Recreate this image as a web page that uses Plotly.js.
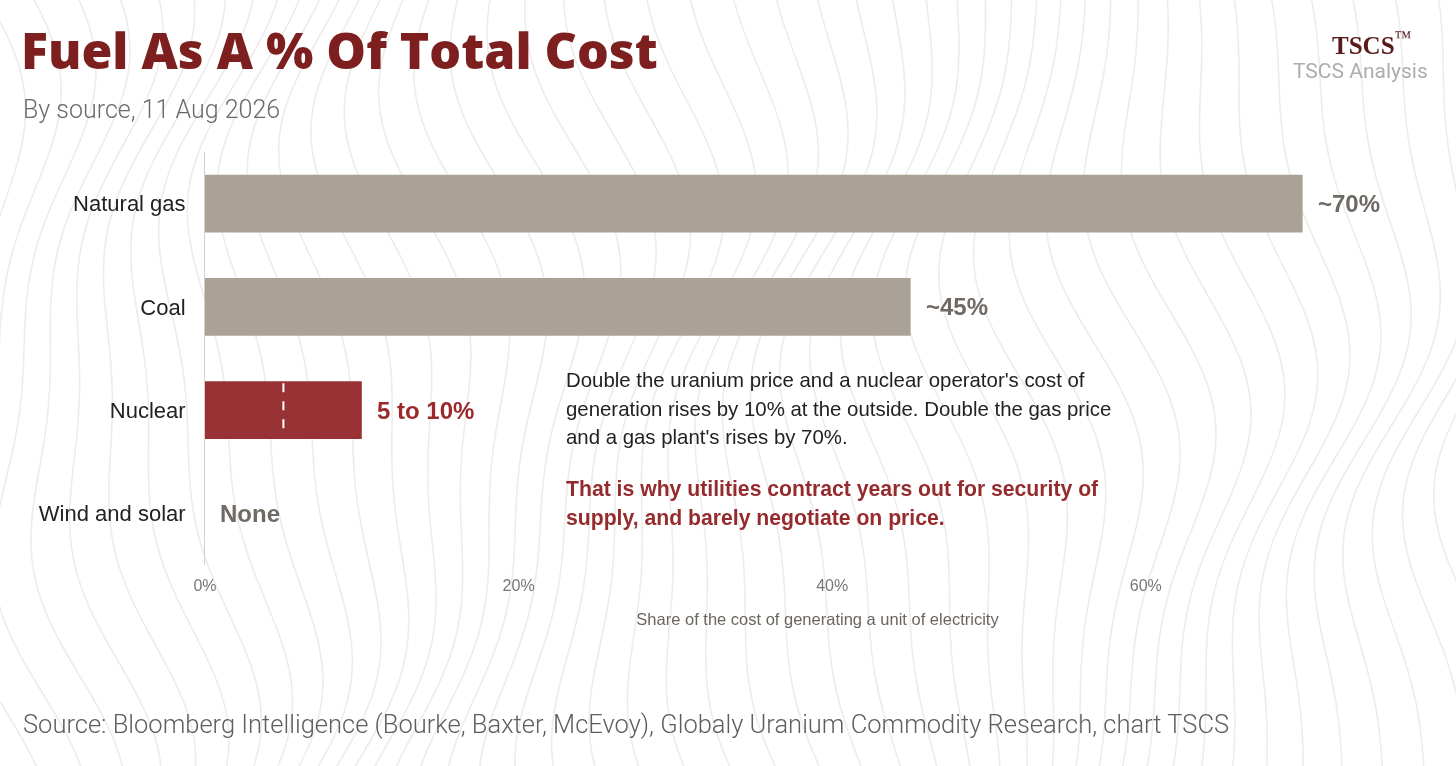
<!DOCTYPE html>
<html>
<head>
<meta charset="utf-8">
<script src="https://cdn.plot.ly/plotly-3.0.1.min.js"></script>
<style>
  html, body { margin: 0; padding: 0; background: #ffffff; }
  #bg { position: absolute; left: 0; top: 0; z-index: 0; }
  #chart { position: absolute; left: 0; top: 0; width: 1456px; height: 766px; z-index: 1; }
</style>
</head>
<body>
<canvas id="bg" width="1456" height="766"></canvas>
<div id="chart"></div>
<script>
// ---- Data ----
const categories = ["Natural gas", "Coal", "Nuclear", "Wind and solar"];
const values = [70, 45, 10, 0];
const valueLabels = ["~70%", "~45%", "5 to 10%", "None"];
const nuclearLow = 5;
const tickValues = [0, 20, 40, 60];
const tickLabels = ["0%", "20%", "40%", "60%"];
const noteLines = [
  "Double the uranium price and a nuclear operator's cost of",
  "generation rises by 10% at the outside. Double the gas price",
  "and a gas plant's rises by 70%."
];
const emphasisLines = [
  "That is why utilities contract years out for security of",
  "supply, and barely negotiate on price."
];

// ---- Decorative background (faint contour-like lines) ----
(function () {
  const c = document.getElementById('bg');
  const ctx = c.getContext('2d');
  ctx.strokeStyle = '#eeebeb';
  ctx.lineWidth = 1.6;
  for (let i = 0; i < 48; i++) {
    const x0 = i * 33 - 60;
    ctx.beginPath();
    for (let y = -20; y <= 790; y += 6) {
      const x = x0 + 42 * Math.sin(y / 125 + i * 0.28) + 16 * Math.sin(y / 58 + i * 0.19);
      if (y === -20) ctx.moveTo(x, y); else ctx.lineTo(x, y);
    }
    ctx.stroke();
  }
})();

// ---- Chart ----
const grey = '#a79e93';
const red = '#952a2c';
const barColors = categories.map(c => c === 'Nuclear' ? red : grey);
const labelColors = categories.map(c => c === 'Nuclear' ? '#9b2a2c' : '#6f6a64');
const barWidth = 0.56;

const trace = {
  type: 'bar',
  orientation: 'h',
  y: categories,
  x: values,
  width: barWidth,
  marker: { color: barColors, opacity: 0.96 },
  hoverinfo: 'skip',
  showlegend: false
};

const L = 205, R = 26, T = 152, B = 201;
const W = 1456, H = 766;
const pw = W - L - R, ph = H - T - B;
const px = v => (v - L) / pw;
const py = v => (H - B - v) / ph;

const annotations = [];
categories.forEach((c, i) => {
  annotations.push({
    xref: 'x', yref: 'y', x: values[i], y: c,
    text: '<b>' + valueLabels[i] + '</b>',
    showarrow: false, xanchor: 'left', yanchor: 'middle', xshift: 13,
    font: { family: 'Liberation Sans, Arial, sans-serif', size: 24, color: labelColors[i] }
  });
});
const noteY = [380, 409, 437];
noteLines.forEach((t, i) => annotations.push({
  xref: 'paper', yref: 'paper', x: px(564), y: py(noteY[i]),
  text: t, showarrow: false, xanchor: 'left', yanchor: 'middle',
  font: { family: 'Liberation Sans, Arial, sans-serif', size: 20.4, color: '#222222' }
}));
const emY = [489, 518];
emphasisLines.forEach((t, i) => annotations.push({
  xref: 'paper', yref: 'paper', x: px(564), y: py(emY[i]),
  text: '<b>' + t + '</b>', showarrow: false, xanchor: 'left', yanchor: 'middle',
  font: { family: 'Liberation Sans, Arial, sans-serif', size: 21.2, color: '#962b2d' }
}));
annotations.push({
  xref: 'paper', yref: 'paper', x: px(21), y: py(109),
  text: 'By source, 11 Aug 2026', showarrow: false, xanchor: 'left', yanchor: 'middle',
  font: { family: 'Roboto, sans-serif', size: 25, color: '#6a6a6a', weight: 300 }
});
annotations.push({
  xref: 'paper', yref: 'paper', x: px(1372), y: py(43),
  text: '<b>TSCS</b><sup>™</sup>', showarrow: false, xanchor: 'center', yanchor: 'middle',
  font: { family: 'Liberation Serif, DejaVu Serif, serif', size: 25, color: '#5a1a1a' }
});
annotations.push({
  xref: 'paper', yref: 'paper', x: px(1430), y: py(71),
  text: 'TSCS Analysis', showarrow: false, xanchor: 'right', yanchor: 'middle',
  font: { family: 'Roboto, sans-serif', size: 21, color: '#adadad' }
});
annotations.push({
  xref: 'paper', yref: 'paper', x: px(21), y: py(724),
  text: 'Source: Bloomberg Intelligence (Bourke, Baxter, McEvoy), Globaly Uranium Commodity Research, chart TSCS',
  showarrow: false, xanchor: 'left', yanchor: 'middle',
  font: { family: 'Roboto, sans-serif', size: 25.5, color: '#5e5e5e', weight: 300 }
});

const nucIdx = categories.indexOf('Nuclear');
const shapes = [{
  type: 'line', xref: 'x', yref: 'y',
  x0: nuclearLow, x1: nuclearLow,
  y0: nucIdx - barWidth / 2 + 0.02, y1: nucIdx + barWidth / 2 - 0.02,
  line: { color: '#ffffff', width: 2, dash: 'dash' }
}];

const layout = {
  width: W, height: H,
  margin: { l: L, r: R, t: T, b: B, pad: 0 },
  paper_bgcolor: 'rgba(0,0,0,0)',
  plot_bgcolor: 'rgba(0,0,0,0)',
  title: {
    text: 'Fuel As A % Of Total Cost',
    xref: 'container', yref: 'container',
    x: 21 / W, xanchor: 'left', y: 1 - 51 / H, yanchor: 'middle',
    font: { family: 'Open Sans, sans-serif', size: 50, color: '#7d1f1f', weight: 800 }
  },
  xaxis: {
    range: [0, pw / 15.68],
    tickvals: tickValues, ticktext: tickLabels,
    showgrid: false, zeroline: false, showline: false, ticks: '',
    ticklabelstandoff: 9,
    tickfont: { family: 'Liberation Sans, Arial, sans-serif', size: 16, color: '#777777' },
    title: {
      text: 'Share of the cost of generating a unit of electricity',
      standoff: 20,
      font: { family: 'Liberation Sans, Arial, sans-serif', size: 16.5, color: '#6b6560' }
    },
    fixedrange: true
  },
  yaxis: {
    autorange: 'reversed',
    showgrid: false, zeroline: false,
    showline: true, linecolor: '#dccccc', linewidth: 1,
    ticks: '', ticklabelstandoff: 14,
    tickfont: { family: 'Liberation Sans, Arial, sans-serif', size: 22, color: '#222222' },
    fixedrange: true
  },
  bargap: 0.44,
  annotations: annotations,
  shapes: shapes,
  showlegend: false
};

Plotly.newPlot('chart', [trace], layout, { displayModeBar: false, staticPlot: true });
</script>
</body>
</html>
